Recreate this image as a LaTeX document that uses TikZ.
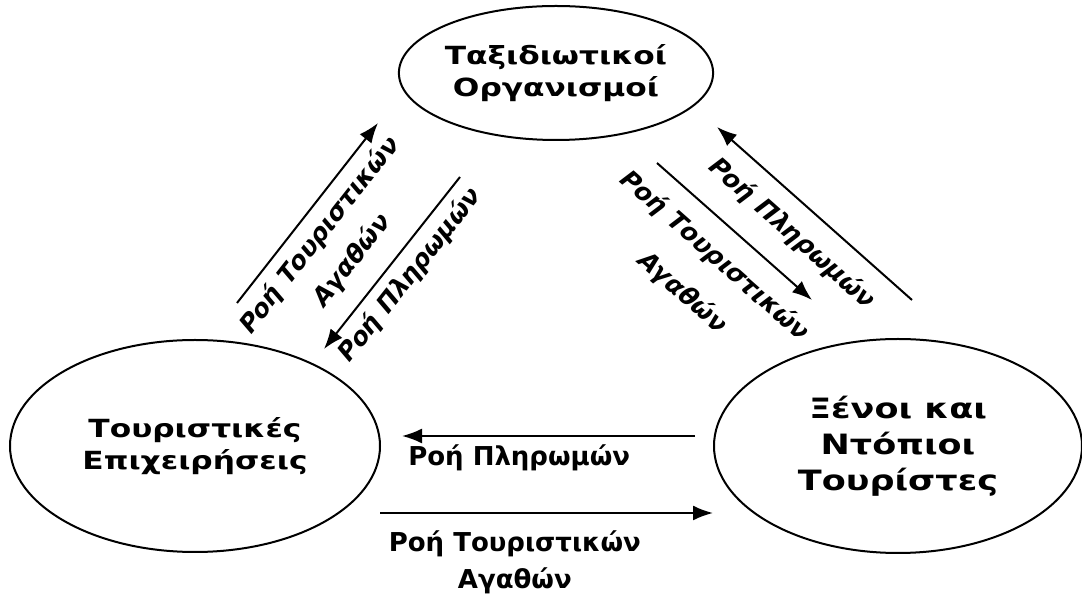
\documentclass[tikz,border=0pt]{standalone}
\usepackage{fontspec}
\setmainfont{DejaVu Sans}
\newfontfamily\ovalfont{DejaVu Sans}[FakeStretch=1.25]
\newfontfamily\slantfont{DejaVu Sans}[FakeSlant=0.2]
\usetikzlibrary{shapes.geometric,arrows.meta}

\tikzset{
  oval/.style={ellipse, draw, line width=1pt, inner sep=0pt, align=center,
    font=\ovalfont\bfseries\fontsize{12.5}{16}\selectfont},
  flow/.style={-{Latex[length=10pt,width=7.5pt]}, line width=1pt},
  flowlabel/.style={sloped, align=center,
    font=\slantfont\bfseries\fontsize{12.5}{20.5}\selectfont},
  baselabel/.style={align=center, font=\bfseries\fontsize{13}{18.5}\selectfont}
}

\begin{document}
\begin{tikzpicture}[x=0.5pt, y=-0.5pt]
  \useasboundingbox (0,0) rectangle (1082,603);

  % the three actors
  \node[oval, minimum width=145pt, minimum height=67pt] (org) at (556,73) {Ταξιδιωτικοί\\Οργανισμοί};
  \node[oval, minimum width=185pt, minimum height=106pt] (biz) at (195,446) {Τουριστικές\\Επιχειρήσεις};
  \node[oval, minimum width=184pt, minimum height=107pt, font=\ovalfont\bfseries\fontsize{14}{18}\selectfont] (tour) at (898,446) {Ξένοι και\\Ντόπιοι\\Τουρίστες};

  % free ends of the flows
  \coordinate (gL1) at (237,303);  \coordinate (gL2) at (378,123);
  \coordinate (pL1) at (460,177);  \coordinate (pL2) at (324,349);
  \coordinate (gR1) at (657,163);  \coordinate (gR2) at (812,300);
  \coordinate (pR1) at (912,300);  \coordinate (pR2) at (717,127);
  \coordinate (pB1) at (695,436);  \coordinate (pB2) at (402,436);
  \coordinate (gB1) at (380,513);  \coordinate (gB2) at (713,513);

  \path[flow]
  (gL1) edge node [flowlabel, pos=0.45, yshift=-22pt] {Ροή Τουριστικών\\Αγαθών} (gL2)
  (pL1) edge node [flowlabel, pos=0.5, yshift=-11pt] {Ροή Πληρωμών} (pL2)
  (gR1) edge node [flowlabel, pos=0.5, yshift=-28pt] {Ροή Τουριστικών\\[4pt]Αγαθών} (gR2)
  (pR1) edge node [flowlabel, pos=0.52, yshift=-15pt] {Ροή Πληρωμών} (pR2)
  (pB1) edge node [baselabel, pos=0.6, yshift=-11pt] {Ροή Πληρωμών} (pB2)
  (gB1) edge node [baselabel, pos=0.405, yshift=-24.5pt] {Ροή Τουριστικών\\Αγαθών} (gB2)
  ;
\end{tikzpicture}
\end{document}
